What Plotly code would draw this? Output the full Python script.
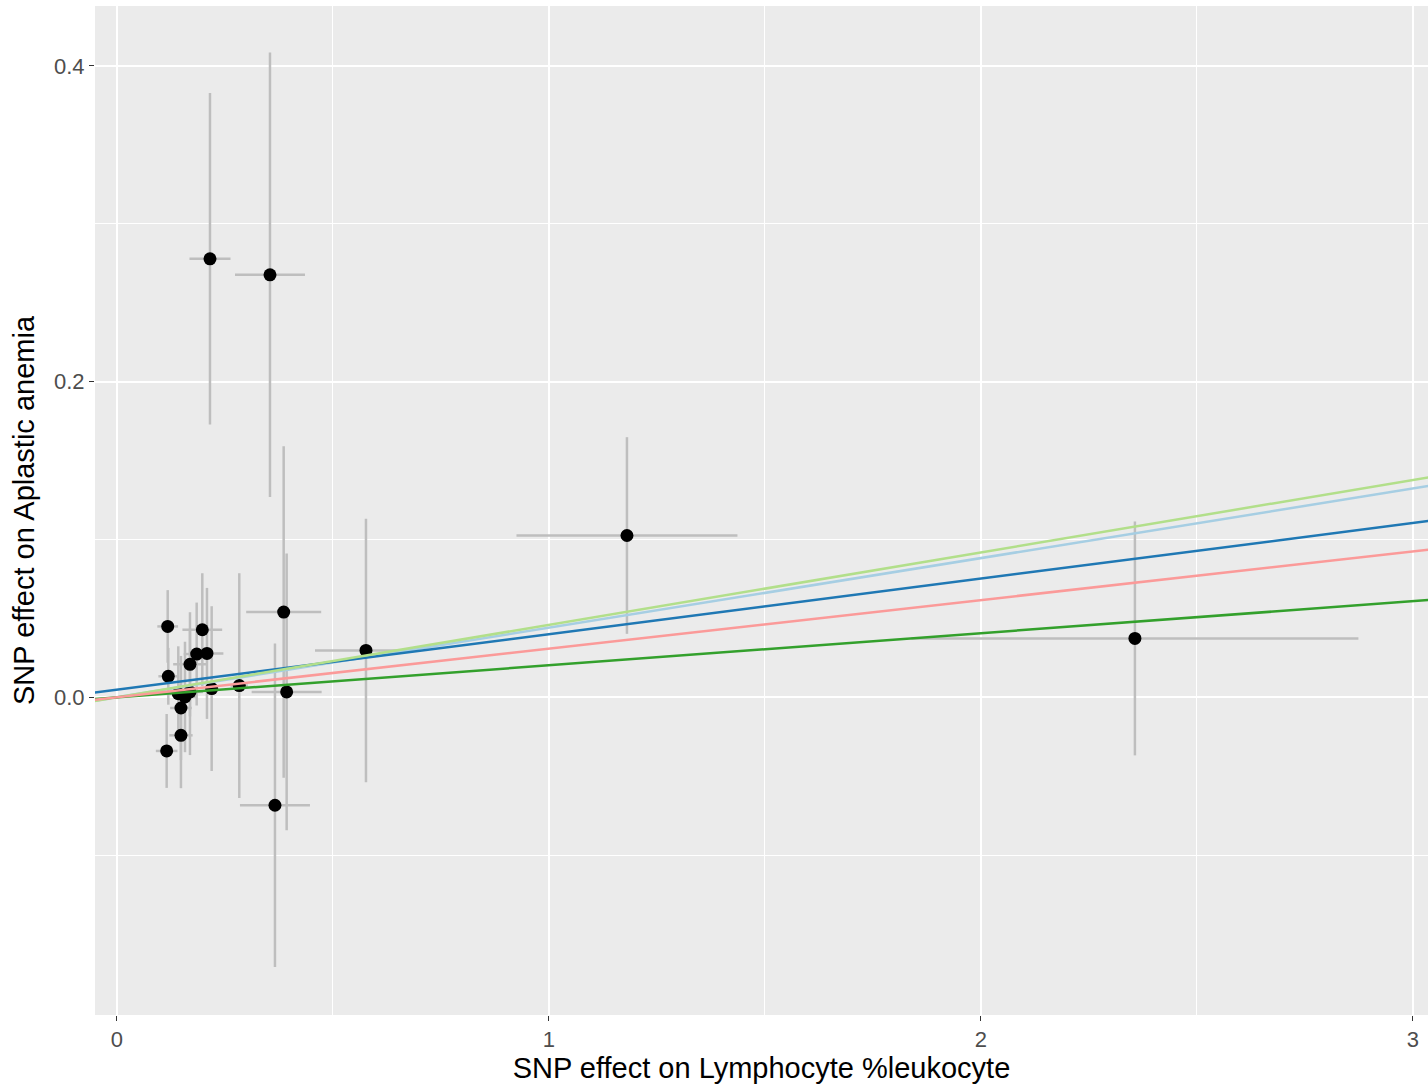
import plotly.graph_objects as go

# SNP effects on exposure (Lymphocyte %leukocyte) and outcome (Aplastic anemia)
beta_exp = [0.2153, 0.3542, 1.1806, 2.3565, 0.5764, 0.3859, 0.3928, 0.3657, 0.2831, 0.2192,
            0.1174, 0.1188, 0.1975, 0.1845, 0.2083, 0.1690, 0.1481, 0.1481, 0.1150, 0.1419,
            0.1574, 0.1690]
beta_out = [0.2778, 0.2677, 0.1025, 0.0373, 0.0297, 0.0540, 0.0034, -0.0684, 0.0074, 0.0055,
            0.0449, 0.0133, 0.0428, 0.0274, 0.0278, 0.0209, -0.0068, -0.0241, -0.0340, 0.0023,
            0.0002, 0.0034]
se_exp = [0.0475, 0.0810, 0.2558, 0.5174, 0.1180, 0.0868, 0.0810, 0.0810, 0.0200, 0.0150,
          0.0240, 0.0230, 0.0460, 0.0300, 0.0380, 0.0390, 0.0250, 0.0270, 0.0250, 0.0200,
          0.0250, 0.0300]
se_out = [0.1050, 0.1408, 0.0623, 0.0741, 0.0835, 0.1050, 0.0877, 0.1025, 0.0712, 0.0522,
          0.0230, 0.0180, 0.0358, 0.0326, 0.0415, 0.0330, 0.0330, 0.0335, 0.0234, 0.0300,
          0.0350, 0.0400]

# MR method fits (intercept, slope)
methods = ["Inverse variance weighted", "MR Egger", "Simple mode", "Weighted median", "Weighted mode"]
intercepts = [0.0, 0.0048, 0.0, 0.0, 0.0]
slopes = [0.0441, 0.0352, 0.0459, 0.0203, 0.0308]
colors = ["#a6cee3", "#1f78b4", "#b2df8a", "#33a02c", "#fb9a99"]

x_range = [-0.0509, 3.035]
y_range = [-0.2013, 0.438]

fig = go.Figure()

# error bars
fig.add_trace(go.Scatter(
    x=beta_exp, y=beta_out, mode="markers",
    marker=dict(size=1, color="rgba(0,0,0,0)"),
    error_x=dict(type="data", array=se_exp, symmetric=True, color="#BEBEBE", thickness=2.5, width=0),
    error_y=dict(type="data", array=se_out, symmetric=True, color="#BEBEBE", thickness=2.5, width=0),
    showlegend=False, hoverinfo="skip"))

# points
fig.add_trace(go.Scatter(
    x=beta_exp, y=beta_out, mode="markers",
    marker=dict(size=13, color="black"),
    showlegend=False))

# regression lines
for m, a, b, c in zip(methods, intercepts, slopes, colors):
    xs = [x_range[0] - 0.1, x_range[1] + 0.1]
    ys = [a + b * xv for xv in xs]
    fig.add_trace(go.Scatter(x=xs, y=ys, mode="lines", name=m,
                             line=dict(color=c, width=2.5), showlegend=False))

fig.update_layout(
    width=1428, height=1086,
    margin=dict(l=95, r=0, t=6, b=71),
    paper_bgcolor="white", plot_bgcolor="#EBEBEB",
    font=dict(family="Liberation Sans, Arial, sans-serif"),
    showlegend=False,
)
fig.update_xaxes(
    range=x_range, tickvals=[0, 1, 2, 3], ticktext=["0", "1", "2", "3"],
    showgrid=True, gridcolor="white", gridwidth=2,
    minor=dict(tickvals=[0.5, 1.5, 2.5], showgrid=True, gridcolor="white", gridwidth=1, ticks=""),
    zeroline=False, showline=False,
    ticks="outside", ticklen=5, tickwidth=1.2, tickcolor="#333333",
    tickfont=dict(size=22, color="#4D4D4D"),
    title=dict(text="SNP effect on Lymphocyte %leukocyte", font=dict(size=29, color="black"), standoff=3),
)
fig.update_yaxes(
    range=y_range, tickvals=[0, 0.2, 0.4], ticktext=["0.0", "0.2", "0.4"],
    showgrid=True, gridcolor="white", gridwidth=2,
    minor=dict(tickvals=[-0.1, 0.1, 0.3], showgrid=True, gridcolor="white", gridwidth=1, ticks=""),
    zeroline=False, showline=False,
    ticks="outside", ticklen=5, tickwidth=1.2, tickcolor="#333333",
    tickfont=dict(size=22, color="#4D4D4D"),
    title=dict(text="SNP effect on Aplastic anemia", font=dict(size=29, color="black"), standoff=10),
)

fig.write_html("out.html", config={"displayModeBar": False},
               post_script="document.body.style.margin='0';")
